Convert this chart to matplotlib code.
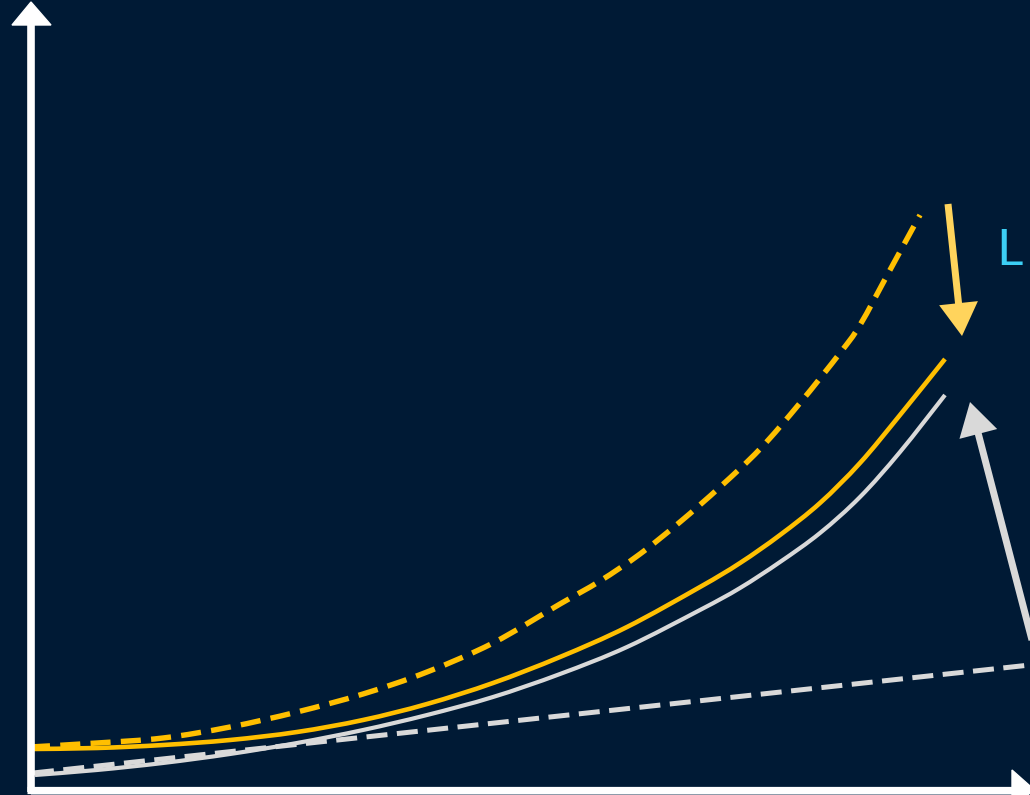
import matplotlib
matplotlib.use("Agg")
import matplotlib.pyplot as plt
from matplotlib.patches import FancyArrow, Polygon, PathPatch
from matplotlib.path import Path

# Colours
BG = "#001a35"
YELLOW = "#ffbf00"
YELLOW_ARROW = "#ffd45c"
GREY = "#d9d9d9"
CYAN = "#3ccff5"
WHITE = "#ffffff"

# Curves (pixel-like units, y grows downward)
dash_yellow_x = [30, 97, 163, 230, 297, 363, 427, 493, 560, 600, 640, 680, 720, 760, 800, 840, 860, 890, 920]
dash_yellow_y = [747, 743, 738, 727, 712, 694, 672, 643, 604, 581, 554, 522, 487, 449, 403, 353, 325, 270, 215]

solid_yellow_x = [30, 97, 163, 230, 297, 363, 427, 493, 560, 627, 700, 740, 780, 820, 860, 900, 945]
solid_yellow_y = [749, 748, 745, 740, 732, 720, 704, 683, 657, 627, 587, 563, 535, 503, 463, 415, 359]

solid_grey_x = [35, 97, 163, 230, 297, 363, 427, 493, 560, 627, 700, 740, 780, 820, 860, 900, 945]
solid_grey_y = [775, 770, 763, 754, 743, 730, 715, 697, 674, 647, 610, 588, 562, 533, 497, 452, 395]

dash_grey_x = [33, 1030]
dash_grey_y = [773, 665]


def smooth_path(xs, ys):
    """Catmull-Rom style bezier path through the read points."""
    pts = list(zip(xs, ys))
    verts = [pts[0]]
    codes = [Path.MOVETO]
    for i in range(len(pts) - 1):
        p0 = pts[i - 1] if i > 0 else pts[i]
        p1, p2 = pts[i], pts[i + 1]
        p3 = pts[i + 2] if i + 2 < len(pts) else pts[i + 1]
        c1 = (p1[0] + (p2[0] - p0[0]) / 6, p1[1] + (p2[1] - p0[1]) / 6)
        c2 = (p2[0] - (p3[0] - p1[0]) / 6, p2[1] - (p3[1] - p1[1]) / 6)
        verts += [c1, c2, p2]
        codes += [Path.CURVE4] * 3
    return Path(verts, codes)


def draw_curve(ax, xs, ys, color, lw, dashes=None):
    ls = (0, dashes) if dashes else "-"
    ax.add_patch(PathPatch(smooth_path(xs, ys), fill=False, edgecolor=color,
                           lw=lw, linestyle=ls, capstyle="butt",
                           joinstyle="round", zorder=3))


fig = plt.figure(figsize=(10.3, 7.95), dpi=100, facecolor=BG)
ax = fig.add_axes([0, 0, 1, 1])
ax.set_facecolor(BG)
ax.set_xlim(0, 1030)
ax.set_ylim(795, 0)
ax.axis("off")

# axes arrows
ax.plot([31, 31], [792, 22], color=WHITE, lw=5.5, solid_capstyle="butt", zorder=5)
ax.add_patch(Polygon([[12, 25], [51, 25], [31, 2]], closed=True, color=WHITE, zorder=5))
ax.plot([27, 1014], [789.5, 789.5], color=WHITE, lw=5.2, solid_capstyle="butt", zorder=5)
ax.plot([31, 1012], [794, 794], color="#7f8fa0", lw=1.0, zorder=4)
ax.add_patch(Polygon([[1012, 770], [1012, 809], [1034, 789.5]], closed=True,
                     color=WHITE, zorder=5))

# curves
ax.plot(dash_grey_x, dash_grey_y, color=GREY, lw=3.6, dashes=(4.2, 1.9), zorder=3)
draw_curve(ax, solid_grey_x, solid_grey_y, GREY, 3.0)
draw_curve(ax, solid_yellow_x, solid_yellow_y, YELLOW, 3.3)
draw_curve(ax, dash_yellow_x, dash_yellow_y, YELLOW, 3.9, dashes=(3.7, 1.9))

# pointer arrows
ax.add_patch(FancyArrow(948, 204, 14, 132, width=7, head_width=39, head_length=33,
                        length_includes_head=True, color=YELLOW_ARROW, lw=0, zorder=4))
ax.add_patch(FancyArrow(1032, 640, -62, -238, width=7, head_width=39, head_length=33,
                        length_includes_head=True, color=GREY, lw=0, zorder=4))

# label
ax.text(996, 251, "L", color=CYAN, fontsize=37, family="Lato",
        ha="left", va="center", zorder=4)

fig.savefig("out.png", dpi=100, facecolor=BG)
